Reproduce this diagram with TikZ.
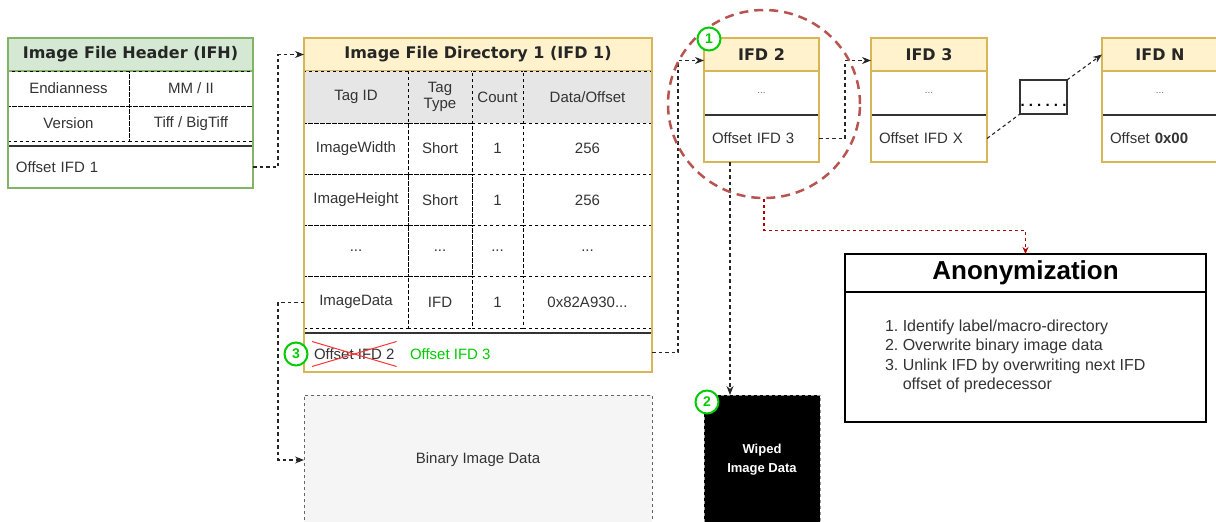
\documentclass[tikz,border=0pt]{standalone}
\usepackage{fontspec}
\setmainfont{Liberation Sans}
\newfontfamily\hdrfont{DejaVu Sans}
\usetikzlibrary{arrows.meta,calc,shapes.geometric}
\definecolor{txtc}{HTML}{333333}
\definecolor{gfill}{HTML}{D5E8D4}
\definecolor{gline}{HTML}{82B366}
\definecolor{yfill}{HTML}{FFF2CC}
\definecolor{yline}{HTML}{D6B656}
\definecolor{grayrow}{HTML}{E6E6E6}
\definecolor{binfill}{HTML}{F5F5F5}
\definecolor{binline}{HTML}{666666}
\definecolor{circred}{HTML}{B85450}
\definecolor{arrred}{HTML}{B20000}
\definecolor{okgreen}{HTML}{00CC00}
\definecolor{xred}{HTML}{FF3333}
\begin{document}
\begin{tikzpicture}[x=1pt,y=-1pt,
  sz/.style 2 args={minimum width=#1pt, minimum height=#2pt},
  base/.style={anchor=north west, inner sep=0pt, outer sep=0pt, text=txtc, font=\fontsize{15}{17}\selectfont, align=center},
  cell/.style={base, draw=black, line width=0.8pt, dash pattern=on 3pt off 3pt},
  hdr/.style={base, line width=1.2pt, font=\hdrfont\bfseries\fontsize{16}{18}\selectfont, text=black!85},
  frame/.style={base, line width=1.2pt},
  offrow/.style={base, align=left, inner xsep=8pt},
  dotsc/.style={base, font=\fontsize{10}{12}\selectfont, text=black!60},
  conn/.style={draw=black!85, line width=1.1pt, dash pattern=on 3.5pt off 3pt, -{Stealth[length=9pt,width=7pt]}},
  sepline/.style={line width=1.8pt, draw=txtc},
  numc/.style={circle, draw=okgreen, line width=2pt, fill=white, minimum size=23pt, inner sep=0pt, text=okgreen, font=\bfseries\fontsize{14}{14}\selectfont},
]
\useasboundingbox (0,0) rectangle (1216,522);

% ---------- IFH ----------
\node[hdr, fill=gfill, draw=gline, sz={245}{33}] (ifhh) at (8,38) {Image File Header (IFH)};
\node[cell, sz={121}{35}] (endk) at (8,71) {Endianness};
\node[cell, sz={124}{35}] (endv) at (129,71) {MM / II};
\node[cell, sz={121}{35}] (verk) at (8,106) {Version};
\node[cell, sz={124}{35}] (verv) at (129,106) {Tiff / BigTiff};
\draw[sepline] (8,146) -- (253,146);
\node[offrow, sz={245}{42}, text width=229pt] (ifhoff) at (8,146) {Offset IFD 1};
\node[frame, draw=gline, sz={245}{150}] (ifh) at (8,38) {};

% ---------- IFD 1 ----------
\node[hdr, fill=yfill, draw=yline, sz={348}{33}] (ifd1h) at (304,38) {Image File Directory 1 (IFD 1)};
\node[cell, fill=grayrow, sz={104}{52}] (c11) at (304,71) {Tag ID};
\node[cell, fill=grayrow, sz={64}{52}, font=\fontsize{15}{16}\selectfont] (c12) at (408,71) {Tag\\Type};
\node[cell, fill=grayrow, sz={51}{52}] (c13) at (472,71) {Count};
\node[cell, fill=grayrow, sz={129}{52}] (c14) at (523,71) {Data/Offset};
\node[cell, sz={104}{51.25}] (c21) at (304,123) {ImageWidth};
\node[cell, sz={64}{51.25}] (c22) at (408,123) {Short};
\node[cell, sz={51}{51.25}] (c23) at (472,123) {1};
\node[cell, sz={129}{51.25}] (c24) at (523,123) {256};
\node[cell, sz={104}{51.25}] (c31) at (304,174.25) {ImageHeight};
\node[cell, sz={64}{51.25}] (c32) at (408,174.25) {Short};
\node[cell, sz={51}{51.25}] (c33) at (472,174.25) {1};
\node[cell, sz={129}{51.25}] (c34) at (523,174.25) {256};
\node[cell, sz={104}{51.25}] (c41) at (304,225.5) {...};
\node[cell, sz={64}{51.25}] (c42) at (408,225.5) {...};
\node[cell, sz={51}{51.25}] (c43) at (472,225.5) {...};
\node[cell, sz={129}{51.25}] (c44) at (523,225.5) {...};
\node[cell, sz={104}{51.25}] (imgdata) at (304,276.75) {ImageData};
\node[cell, sz={64}{51.25}] (c52) at (408,276.75) {IFD};
\node[cell, sz={51}{51.25}] (c53) at (472,276.75) {1};
\node[cell, sz={129}{51.25}] (c54) at (523,276.75) {0x82A930...};
\draw[sepline] (304,333) -- (652,333);
\node[base, sz={348}{39}] (ifd1off) at (304,333) {};
\node[base, anchor=west, inner xsep=2pt, inner ysep=7pt] (oldoff) at (312,354) {Offset IFD 2};
\draw[xred, line width=1pt] (oldoff.north west) -- (oldoff.south east);
\draw[xred, line width=1pt] (oldoff.south west) -- (oldoff.north east);
\node[base, anchor=west, text=okgreen] (newoff) at (410,354) {Offset IFD 3};
\node[frame, draw=yline, sz={348}{334}] (ifd1) at (304,38) {};

% ---------- Binary image data ----------
\node[base, draw=binline, fill=binfill, line width=0.8pt, dash pattern=on 3pt off 3pt, sz={348}{130}] (bin) at (304,395) {Binary Image Data};

% ---------- IFD 2 ----------
\node[hdr, fill=yfill, draw=yline, sz={115}{33}] (ifd2h) at (704,38) {IFD 2};
\node[dotsc, sz={115}{44}] (ifd2d) at (704,71) {...};
\draw[sepline, line width=1.4pt] (704,115) -- (819,115);
\node[offrow, sz={115}{47}, text width=99pt] (ifd2off) at (704,115) {Offset IFD 3};
\node[frame, draw=yline, sz={115}{124}] (ifd2) at (704,38) {};

% ---------- IFD 3 ----------
\node[hdr, fill=yfill, draw=yline, sz={116}{33}] (ifd3h) at (871,38) {IFD 3};
\node[dotsc, sz={116}{44}] (ifd3d) at (871,71) {...};
\draw[sepline, line width=1.4pt] (871,115) -- (987,115);
\node[offrow, sz={116}{47}, text width=100pt] (ifd3off) at (871,115) {Offset IFD X};
\node[frame, draw=yline, sz={116}{124}] (ifd3) at (871,38) {};

% ---------- gap box ----------
\node[base, draw=black!80, line width=1.2pt, sz={47}{34}] (gap) at (1020,80) {};
\node[anchor=base, inner sep=0pt, text=black, font=\bfseries\fontsize{15}{15}\selectfont\addfontfeatures{LetterSpace=28}] (gapdots) at ($(gap.south)+(0,-8)$) {......};

% ---------- IFD N ----------
\node[hdr, fill=yfill, draw=yline, sz={116}{33}] (ifdNh) at (1102,38) {IFD N};
\node[dotsc, sz={116}{44}] (ifdNd) at (1102,71) {...};
\draw[sepline, line width=1.4pt] (1102,115) -- (1218,115);
\node[offrow, sz={116}{47}, text width=100pt] (ifdNoff) at (1102,115) {Offset \textbf{0x00}};
\node[frame, draw=yline, sz={116}{124}] (ifdN) at (1102,38) {};

% ---------- wiped ----------
\node[base, fill=black, draw=black!40, line width=0.8pt, dash pattern=on 3pt off 3pt, sz={116}{130}, text=white, font=\bfseries\fontsize{13}{19}\selectfont] (wiped) at (704,395) {Wiped\\Image Data};

% ---------- Anonymization ----------
\node[base, draw=black, line width=1.2pt, sz={361}{38}, text=black, font=\bfseries\fontsize{26}{28}\selectfont] (anonh) at (845,254) {Anonymization};
\node[base, draw=black, line width=1.2pt, sz={361}{130}] (anonb) at (845,292) {};
\node[base, anchor=west, align=left, font=\fontsize{16}{19.5}\selectfont] (anonlist) at (885,356.5)
  {1.~Identify label/macro-directory\\2.~Overwrite binary image data\\3.~Unlink IFD by overwriting next IFD\\\hphantom{3.~}offset of predecessor};

% ---------- connectors ----------
\draw[conn] (ifhoff.east) -- ++(25,0) |- (ifd1h.west);
\draw[conn] (imgdata.west) -- ++(-26,0) |- (bin.west);
\draw[conn] (ifd1off.east) -- ++(26,0) |- ($(ifd2h.west)+(0,6)$);
\draw[conn] (ifd2off.east) -- ++(26,0) |- ($(ifd3h.west)+(0,6)$);
\draw[conn, -] (ifd3off.east) -- (gap.south west);
\draw[conn] (gap.north east) -- (ifdNh.west);
\draw[conn] ($(ifd2.south west)+(26,0)$) -- ($(wiped.north west)+(26,0)$);

% ---------- red circle ----------
\node[ellipse, draw=circred, line width=2.5pt, dash pattern=on 9pt off 6pt, minimum width=192pt, minimum height=188pt, inner sep=0pt] (circ) at (764,104) {};
\draw[draw=arrred, line width=1.1pt, dash pattern=on 3pt off 3pt, -{Stealth[length=7pt,width=6pt]}] (circ.south) -- ++(0,31) -| (anonh.north);

% ---------- step numbers ----------
\node[numc] (n1) at (709,39) {1};
\node[numc] (n2) at (707,402) {2};
\node[numc] (n3) at (296,354) {3};
\end{tikzpicture}
\end{document}
